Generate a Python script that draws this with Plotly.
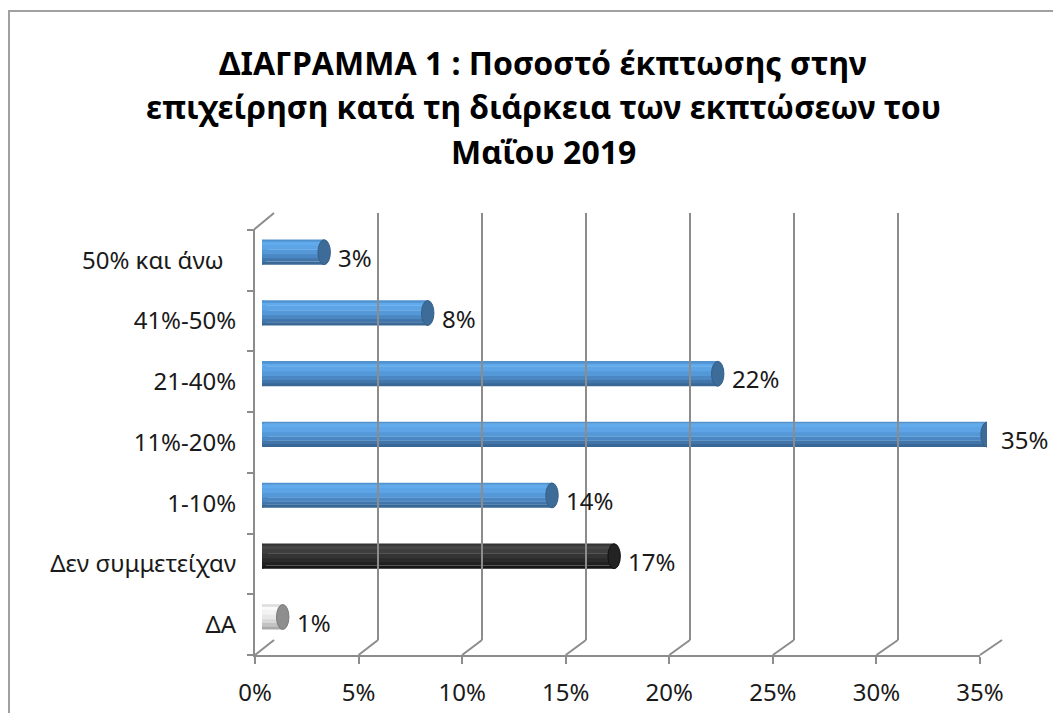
import plotly.graph_objects as go

# ---------------- data ----------------
categories = ["ΔΑ", "Δεν συμμετείχαν", "1-10%", "11%-20%", "21-40%", "41%-50%",
              "50% και άνω\u00a0\u00a0"]
values = [1, 17, 14, 35, 22, 8, 3]
value_labels = ["1%", "17%", "14%", "35%", "22%", "8%", "3%"]
groups = ["na", "none", "disc", "disc", "disc", "disc", "disc"]
x_ticks = [0, 5, 10, 15, 20, 25, 30, 35]
x_tick_labels = ["0%", "5%", "10%", "15%", "20%", "25%", "30%", "35%"]
title_lines = ["ΔΙΑΓΡΑΜΜΑ 1 : Ποσοστό έκπτωσης στην",
               "επιχείρηση κατά τη διάρκεια των εκπτώσεων του",
               "Μαΐου 2019"]

# ---------------- styles ----------------
# cylinder shading: colours of horizontal bands, bottom -> top
band_edges = [-0.205, -0.155, -0.10, -0.035, 0.04, 0.12, 0.18, 0.205]
shading = {
    "disc": ["#3a6896", "#4276aa", "#4a87c3", "#5498d7", "#5ca4e6", "#61aaec", "#5193d0"],
    "none": ["#161616", "#202020", "#2a2a2a", "#343434", "#3e3e3e", "#474747", "#353535"],
    "na":   ["#a9a9a9", "#c2c2c2", "#d8d8d8", "#e8e8e8", "#f3f3f3", "#fafafa", "#dcdcdc"],
}
cap_color = {"disc": "#3e6c98", "none": "#232323", "na": "#8e8e8e"}
cap_edge = {"disc": "#34608a", "none": "#111111", "na": "#7a7a7a"}

PAGE_MARGIN = 8          # default body margin of the html page
W, H = 1061 - 2 * PAGE_MARGIN, 721 - 2 * PAGE_MARGIN
FONT = "Noto Sans"
GRID = "#8c8c8c"
TXT = "#1a1a1a"

def fx(p):
    return (p - PAGE_MARGIN) / W

def fy(p):
    return (H - (p - PAGE_MARGIN)) / H

front_x = [fx(255), fx(980)]
front_y = [fy(655), fy(230)]
back_x = [fx(274), fx(1002)]
back_y = [fy(640), fy(213)]
bar_x = [fx(262), fx(987)]
bar_y = [fy(647.4), fy(221.8)]
title_y = [62, 107, 152]
XMAX = x_ticks[-1]

fig = go.Figure()

for b in range(len(band_edges) - 1):
    lo, hi = band_edges[b], band_edges[b + 1]
    fig.add_trace(go.Bar(
        x=values, y=categories, orientation="h",
        marker=dict(color=[shading[g][b] for g in groups], line=dict(width=0)),
        offset=lo, width=hi - lo + 0.004, hoverinfo="skip", showlegend=False,
        xaxis="x", yaxis="y",
    ))

# invisible traces to make the front and back axes exist
fig.add_trace(go.Scatter(x=[0] * len(categories), y=categories, mode="markers",
                         marker=dict(opacity=0), hoverinfo="skip", showlegend=False,
                         xaxis="x2", yaxis="y2"))
fig.add_trace(go.Scatter(x=[0], y=[0], mode="markers", marker=dict(opacity=0),
                         hoverinfo="skip", showlegend=False, xaxis="x3", yaxis="y3"))

shapes = []
cap_half = 0.3
half_t = band_edges[-1]
for i, (v, g) in enumerate(zip(values, groups)):
    # rounded back end of the cylinder
    shapes.append(dict(type="circle", xref="x", yref="y", layer="below",
                       x0=-cap_half, x1=cap_half, y0=i - half_t, y1=i + half_t,
                       fillcolor=shading[g][3], line=dict(width=0)))
    # visible end cap
    shapes.append(dict(type="circle", xref="x", yref="y", layer="above",
                       x0=v - cap_half, x1=v + cap_half, y0=i - half_t, y1=i + half_t,
                       fillcolor=cap_color[g], line=dict(color=cap_edge[g], width=1)))

# floor diagonals from front ticks to back gridlines
for t in x_ticks:
    xf = front_x[0] + t / XMAX * (front_x[1] - front_x[0])
    xb = back_x[0] + t / XMAX * (back_x[1] - back_x[0])
    shapes.append(dict(type="line", xref="paper", yref="paper",
                       x0=xf, y0=front_y[0], x1=xb, y1=back_y[0],
                       line=dict(color=GRID, width=2), layer="below"))
# top-left wall diagonal
shapes.append(dict(type="line", xref="paper", yref="paper",
                   x0=front_x[0] - 1.5 / W, y0=front_y[1], x1=back_x[0], y1=back_y[1],
                   line=dict(color=GRID, width=2), layer="below"))
# chart border (only top and left edges are inside the picture)
shapes.append(dict(type="rect", xref="paper", yref="paper",
                   x0=fx(9), y0=fy(740), x1=fx(1085), y1=fy(11),
                   line=dict(color="#a0a0a0", width=2), fillcolor="rgba(0,0,0,0)", layer="below"))

annotations = []
for c, v, lab in zip(categories, values, value_labels):
    annotations.append(dict(x=v, y=c, xref="x", yref="y", text=lab, showarrow=False,
                            xanchor="left", yanchor="middle", xshift=12, yshift=-5,
                            font=dict(family=FONT, size=24, color=TXT)))
for line, ty in zip(title_lines, title_y):
    annotations.append(dict(x=fx(543), y=fy(ty), xref="paper", yref="paper",
                            text=line, showarrow=False,
                            xanchor="center", yanchor="middle",
                            font=dict(family=FONT, size=32, color="#000000", weight="bold")))

fig.update_layout(
    width=W, height=H,
    margin=dict(l=0, r=0, t=0, b=0),
    paper_bgcolor="white", plot_bgcolor="rgba(0,0,0,0)",
    barmode="overlay", showlegend=False,
    shapes=shapes, annotations=annotations,
    xaxis=dict(domain=bar_x, range=[0, XMAX], visible=False, anchor="y", automargin=False),
    yaxis=dict(domain=bar_y, range=[-0.5, len(categories) - 0.5], visible=False,
               categoryorder="array", categoryarray=categories, anchor="x", automargin=False),
    xaxis2=dict(domain=front_x, range=[0, XMAX], anchor="y2", automargin=False,
                tickvals=x_ticks, ticktext=x_tick_labels,
                ticks="outside", ticklen=7, tickwidth=2, tickcolor=GRID,
                showline=True, linecolor=GRID, linewidth=2,
                showgrid=False, zeroline=False, ticklabelstandoff=8,
                tickfont=dict(family=FONT, size=24, color=TXT)),
    yaxis2=dict(domain=front_y, range=[-0.5, len(categories) - 0.5], anchor="x2",
                automargin=False,
                type="category", categoryorder="array", categoryarray=categories,
                ticks="outside", tickson="boundaries", ticklen=6, tickwidth=2, tickcolor=GRID,
                showline=True, linecolor=GRID, linewidth=2, showgrid=False,
                ticklabelstandoff=12,
                tickfont=dict(family=FONT, size=24, color=TXT)),
    xaxis3=dict(domain=back_x, range=[0, XMAX], anchor="y3", automargin=False,
                tick0=0, dtick=5, showgrid=True, gridcolor=GRID, gridwidth=2,
                showticklabels=False, ticks="", zeroline=False, showline=False),
    yaxis3=dict(domain=back_y, range=[0, 1], anchor="x3", automargin=False, showgrid=False,
                showticklabels=False, ticks="", zeroline=False, showline=False),
)

fig.write_html("out.html")
